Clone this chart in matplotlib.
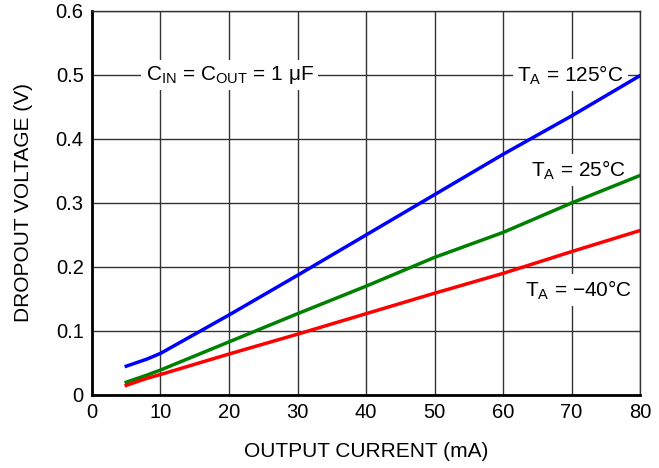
import matplotlib.pyplot as plt
import numpy as np

plt.rcParams['font.family'] = ['Liberation Sans', 'DejaVu Sans']

current = [5, 8, 10, 15, 20, 30, 40, 50, 60, 70, 80]
v_125 = [0.045, 0.056, 0.065, 0.095, 0.125, 0.187, 0.25, 0.313, 0.376, 0.436, 0.499]
v_25 = [0.02, 0.031, 0.039, 0.061, 0.083, 0.127, 0.17, 0.215, 0.254, 0.30, 0.343]
v_m40 = [0.015, 0.026, 0.032, 0.048, 0.064, 0.095, 0.127, 0.159, 0.19, 0.224, 0.257]

fig = plt.figure(figsize=(6.59, 4.68), dpi=100)
ax = fig.add_axes([0.1396, 0.156, 0.8316, 0.8205])

ax.plot(current, v_125, color='#0000ff', lw=2.5, zorder=3)
ax.plot(current, v_25, color='#008000', lw=2.5, zorder=3)
ax.plot(current, v_m40, color='#ff0000', lw=2.5, zorder=3)

ax.set_xlim(0, 80)
ax.set_ylim(0, 0.6)
ax.set_xticks(np.arange(0, 81, 10))
ax.set_yticks(np.arange(0, 0.61, 0.1))
ax.set_yticklabels(['0', '0.1', '0.2', '0.3', '0.4', '0.5', '0.6'])
ax.grid(True, color='#333333', lw=1)
ax.tick_params(labelsize=14.5, length=0, pad=6)
for s in ['left', 'bottom']:
    ax.spines[s].set_linewidth(2)
for s in ['top', 'right']:
    ax.spines[s].set_linewidth(1)
    ax.spines[s].set_color('#333333')

ax.set_xlabel('OUTPUT CURRENT (mA)', fontsize=15, labelpad=14)
ax.set_ylabel('DROPOUT VOLTAGE (V)', fontsize=15, labelpad=16)

box = dict(facecolor='white', edgecolor='none', pad=3)
ax.text(20.1, 0.5, r'C$_{\mathregular{IN}}$ = C$_{\mathregular{OUT}}$ = 1 $\mathregular{\mu}$F',
        fontsize=15, ha='center', va='center', bbox=box, zorder=2.5)
ax.text(69.8, 0.5, r'T$_{\mathregular{A}}$ = 125°C', fontsize=15, ha='center', va='center', bbox=box, zorder=2.5)
ax.text(71, 0.352, r'T$_{\mathregular{A}}$ = 25°C', fontsize=15, ha='center', va='center', bbox=box, zorder=2.5)
ax.text(71, 0.164, r'T$_{\mathregular{A}}$ = −40°C', fontsize=15, ha='center', va='center', bbox=box, zorder=2.5)

fig.savefig('out.png', dpi=100)
